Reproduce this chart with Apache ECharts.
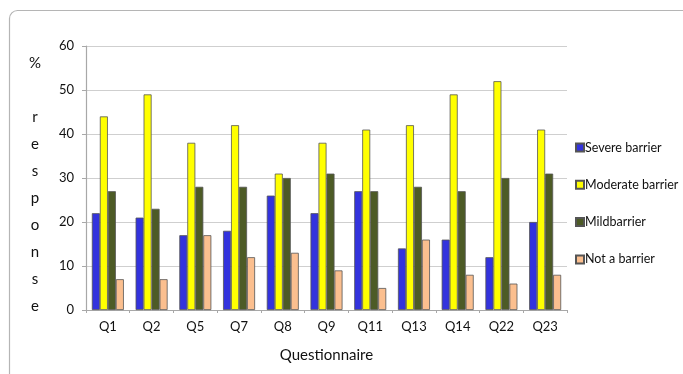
<!DOCTYPE html>
<html>
<head>
<meta charset="utf-8">
<script src="https://cdn.jsdelivr.net/npm/echarts@6/dist/echarts.min.js"></script>
<style>
  html, body { margin: 0; padding: 0; background: #fff; }
  #chart { width: 683px; height: 374px; }
</style>
</head>
<body>
<div id="chart"></div>
<script>
const questions = ['Q1', 'Q2', 'Q5', 'Q7', 'Q8', 'Q9', 'Q11', 'Q13', 'Q14', 'Q22', 'Q23'];
const severe   = [22, 21, 17, 18, 26, 22, 27, 14, 16, 12, 20];
const moderate = [44, 49, 38, 42, 31, 38, 41, 42, 49, 52, 41];
const mild     = [27, 23, 28, 28, 30, 31, 27, 28, 27, 30, 31];
const notA     = [7, 7, 17, 12, 13, 9, 5, 16, 8, 6, 8];
const yTicks   = [0, 10, 20, 30, 40, 50, 60];

const font = 'Lato, "Open Sans", sans-serif';
let myChart = echarts.init(document.getElementById('chart'));

function bar(name, data, color) {
  return {
    name: name,
    type: 'bar',
    data: data,
    barWidth: 8,
    barGap: '0%',
    itemStyle: { color: color, borderColor: '#555', borderWidth: 0.8 }
  };
}

myChart.setOption({
  animation: false,
  textStyle: { fontFamily: font },
  grid: { left: 86, right: 116, top: 46, bottom: 64 },
  graphic: [{
    type: 'rect',
    shape: { x: 9.5, y: 10.5, width: 700, height: 420, r: 8 },
    style: { fill: 'none', stroke: '#b5b5b5', lineWidth: 1.2 },
    silent: true
  }, {
    // y axis title, written one letter per line
    type: 'text',
    x: 35,
    y: 49.5,
    style: {
      text: '%\n\nr\ne\ns\np\no\nn\ns\ne',
      align: 'center',
      verticalAlign: 'top',
      lineHeight: 27,
      fontSize: 15,
      fontFamily: font,
      fill: '#111'
    },
    silent: true
  }],
  legend: {
    orient: 'vertical',
    left: 570,
    top: 136,
    itemWidth: 8,
    itemHeight: 8,
    itemGap: 24.3,
    icon: 'rect',
    textStyle: { fontSize: 12.5, color: '#111', padding: [0, 0, 0, -4] },
    data: ['Severe barrier', 'Moderate barrier', 'Mildbarrier', 'Not a barrier']
  },
  xAxis: {
    type: 'category',
    data: questions,
    name: 'Questionnaire',
    nameLocation: 'middle',
    nameGap: 38,
    nameTextStyle: { fontSize: 15, color: '#111', letterSpacing: 1.8 },
    axisLine: { lineStyle: { color: '#a8a8a8', width: 1.2 } },
    axisTick: { show: true, length: 3, lineStyle: { color: '#a8a8a8' } },
    axisLabel: { fontSize: 13, color: '#111', margin: 10 },
    splitLine: { show: false }
  },
  yAxis: {
    type: 'value',
    min: 0,
    max: 60,
    interval: 10,
    axisLine: { show: true, lineStyle: { color: '#a8a8a8', width: 1.2 } },
    axisTick: { show: true, length: 4, lineStyle: { color: '#a8a8a8' } },
    axisLabel: {
      fontSize: 13, color: '#111', margin: 12,
      formatter: (v) => yTicks.includes(v) ? String(v) : ''
    },
    splitLine: { lineStyle: { color: '#cfcfcf', width: 1.2 } }
  },
  series: [
    bar('Severe barrier', severe, '#3333dd'),
    bar('Moderate barrier', moderate, '#ffff00'),
    bar('Mildbarrier', mild, '#4d5b26'),
    bar('Not a barrier', notA, '#fbbf8f')
  ]
});
</script>
</body>
</html>
